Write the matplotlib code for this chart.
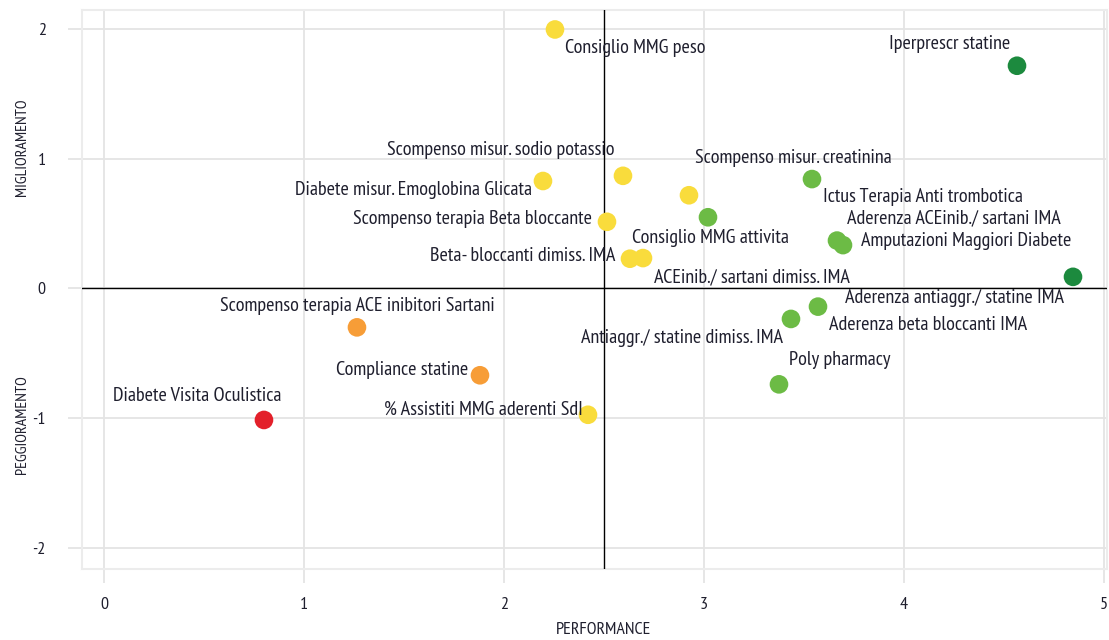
import numpy as np
import matplotlib.pyplot as plt
import matplotlib.transforms as mtransforms

plt.rcParams['font.family'] = ['PT Sans Narrow', 'Roboto Condensed', 'DejaVu Sans']
plt.rcParams['axes.unicode_minus'] = False

# indicatori: performance (x) e miglioramento (y)
names = ['Consiglio MMG peso', 'Iperprescr statine', 'Scompenso misur. sodio potassio',
         'Diabete misur. Emoglobina Glicata', 'Scompenso misur. creatinina',
         'Ictus Terapia Anti trombotica', 'Consiglio MMG attivita',
         'Aderenza ACEinib./ sartani IMA', 'Amputazioni Maggiori Diabete',
         'Scompenso terapia Beta bloccante', 'Beta- bloccanti dimiss. IMA',
         'ACEinib./ sartani dimiss. IMA', 'Aderenza antiaggr./ statine IMA',
         'Aderenza beta bloccanti IMA', 'Antiaggr./ statine dimiss. IMA', 'Poly pharmacy',
         'Scompenso terapia ACE inibitori Sartani', 'Compliance statine',
         'Diabete Visita Oculistica', '% Assistiti MMG aderenti SdI']
performance = [2.255, 4.565, 2.595, 2.195, 2.925, 3.54, 3.02, 3.665, 3.695, 2.515,
               2.63, 2.695, 4.845, 3.57, 3.435, 3.375, 1.265, 1.88, 0.80, 2.42]
miglioramento = [2.0, 1.72, 0.87, 0.83, 0.72, 0.845, 0.55, 0.37, 0.335, 0.515,
                 0.23, 0.235, 0.09, -0.14, -0.235, -0.74, -0.30, -0.67, -1.015, -0.975]

xticks = [0, 1, 2, 3, 4, 5]
yticks = [-2, -1, 0, 1, 2]

# colore per fascia di performance
band_edges = [1, 2, 3, 4]
band_colors = ['#e3202a', '#f79d37', '#f9dc3c', '#6cbb45', '#1c8a3e']

# posizione etichette (offset in pixel, allineamento)
label_offsets = [(10, -19), (-7, 22), (-8, 26), (-11, -9), (6, 37),
                 (11, -18), (3, -21), (10, 22), (18, 4), (-15, 3),
                 (-15, 3), (11, -19), (-9, -21), (11, -18), (-8, -19),
                 (10, 24), (0, 21), (-12, 5), (18, 24), (-5, 5)]
label_ha = ['left', 'right', 'right', 'right', 'left',
            'left', 'center', 'left', 'left', 'right',
            'right', 'left', 'right', 'left', 'right',
            'left', 'center', 'right', 'right', 'right']

grid_col = '#e4e4e4'
text_col = '#1f1f2e'

fig = plt.figure(figsize=(11.09, 6.4), dpi=100)
ax = fig.add_axes([0.0739, 0.1109, 0.9243, 0.8734])

colors = [band_colors[i] for i in np.digitize(performance, band_edges)]
ax.scatter(performance, miglioramento, s=180, c=colors, zorder=4, linewidths=0)

for name, x, y, off, ha in zip(names, performance, miglioramento, label_offsets, label_ha):
    ax.annotate(name, (x, y), xytext=off, textcoords='offset pixels',
                ha=ha, va='center', fontsize=14.5, color=text_col, zorder=5)

ax.axvline(2.5, color='black', lw=1, zorder=3)
ax.axhline(0, color='black', lw=1, zorder=3)

ax.set_xlim(-0.11, 5.015)
ax.set_ylim(-2.166, 2.15)
ax.set_xticks(xticks)
ax.set_yticks(yticks)
ax.grid(True, color=grid_col, lw=1.3, zorder=0)
for s in ax.spines.values():
    s.set_color('#ececec')
    s.set_linewidth(1.5)
ax.tick_params(axis='both', direction='out', length=10, width=1.3, color=grid_col,
               labelsize=13, labelcolor=text_col)
ax.tick_params(axis='x', pad=10)
ax.tick_params(axis='y', pad=16)

# etichette assi
trans = mtransforms.blended_transform_factory(fig.transFigure, ax.transData)
ax.text(0.02, 1.09, 'MIGLIORAMENTO', transform=trans, rotation=90, ha='center',
        va='center', fontsize=11.5, color=text_col)
ax.text(0.02, -1.05, 'PEGGIORAMENTO', transform=trans, rotation=90, ha='center',
        va='center', fontsize=11.5, color=text_col)
trans_x = mtransforms.blended_transform_factory(ax.transData, fig.transFigure)
ax.text(2.5, 0.016, 'PERFORMANCE', transform=trans_x, ha='center', va='center',
        fontsize=13, color=text_col)

fig.savefig('out.png', dpi=100)
